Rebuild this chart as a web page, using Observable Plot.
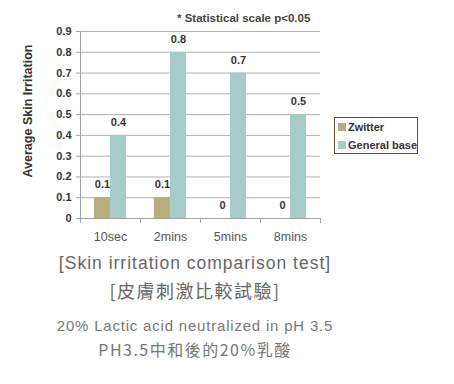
<!DOCTYPE html>
<html>
<head>
<meta charset="utf-8">
<script src="https://cdn.jsdelivr.net/npm/d3@7"></script>
<script src="https://cdn.jsdelivr.net/npm/@observablehq/plot@0.6"></script>
<style>
  html, body { margin: 0; padding: 0; background: #fff; }
  #wrap { position: relative; width: 454px; height: 384px; overflow: hidden; font-family: "Liberation Sans", Arial, sans-serif; }
  #chart { position: absolute; left: 0; top: 0; }
  .note { position: absolute; left: 177px; top: 12px; font-size: 11.5px; font-weight: bold; color: #444; white-space: nowrap; }
  .ytitle { position: absolute; left: 28px; top: 111px; transform: translate(-50%, -50%) rotate(-90deg); font-size: 12.5px; font-weight: bold; color: #333; white-space: nowrap; }
  .legend { position: absolute; left: 334px; top: 117px; width: 84px; height: 37px; border: 1.5px solid #5b4c3c; box-sizing: border-box; font-size: 11px; font-weight: bold; color: #333; }
  .legend .item { position: absolute; left: 3px; white-space: nowrap; line-height: 12px; }
  .legend .sw { display: inline-block; width: 8px; height: 8px; margin-right: 2px; }
  .cap { position: absolute; left: 0; width: 390px; text-align: center; white-space: nowrap; color: #666; }
</style>
</head>
<body>
<div id="wrap">
  <div id="chart"></div>
  <div class="note">* Statistical scale p&lt;0.05</div>
  <div class="ytitle">Average Skin Irritation</div>
  <div class="legend" id="legend"></div>
  <div class="cap" style="top:253px;font-size:17.5px;letter-spacing:1px;">[Skin irritation comparison test]</div>
  <div class="cap" style="top:279px;font-size:18px;letter-spacing:1.5px;font-family:'Noto Sans CJK TC',sans-serif;font-weight:400;line-height:22px;">[皮膚刺激比較試驗]</div>
  <div class="cap" style="top:317px;font-size:15px;letter-spacing:0.8px;color:#777;">20% Lactic acid neutralized in pH 3.5</div>
  <div class="cap" style="top:339px;font-size:16px;letter-spacing:1.5px;color:#777;font-family:'Noto Sans CJK TC',sans-serif;font-weight:400;line-height:20px;">PH3.5中和後的20%乳酸</div>
</div>
<script>
const categories = ["10sec", "2mins", "5mins", "8mins"];
const series = ["Zwitter", "General base"];
const zwitter = [0.1, 0.1, 0, 0];
const generalBase = [0.4, 0.8, 0.7, 0.5];
const colors = ["#b8ae7d", "#a7cbc9"];
const yTicks = [0, 0.1, 0.2, 0.3, 0.4, 0.5, 0.6, 0.7, 0.8, 0.9];

const data = [];
categories.forEach((c, i) => {
  data.push({cat: c, series: series[0], value: zwitter[i]});
  data.push({cat: c, series: series[1], value: generalBase[i]});
});

const plot = Plot.plot({
  width: 454,
  height: 248,
  marginLeft: 79,
  marginRight: 134,
  marginTop: 31,
  marginBottom: 30,
  style: {fontFamily: "Liberation Sans, Arial, sans-serif", background: "transparent"},
  fx: {domain: categories, padding: 0, label: null},
  x: {domain: series, paddingInner: 0, paddingOuter: 0.875, axis: null},
  y: {domain: [0, 0.9], ticks: yTicks, label: null},
  color: {domain: series, range: colors},
  marks: [
    Plot.gridY(yTicks, {stroke: "#b0b0b0", strokeOpacity: 1, strokeWidth: 1}),
    Plot.barY(data, {fx: "cat", x: "series", y: "value", fill: "series"}),
    Plot.text(data, {fx: "cat", x: "series", y: "value", text: d => String(d.value), dy: -13, fontWeight: "bold", fontSize: 11, fill: "#333"}),
    Plot.frame({anchor: "bottom", stroke: "#a0a0a0"}),
    Plot.frame({anchor: "left", facetAnchor: "left", stroke: "#a0a0a0", insetBottom: -4}),
    Plot.frame({anchor: "left", stroke: "#a0a0a0", insetTop: 187, insetBottom: -4}),
    Plot.frame({anchor: "right", facetAnchor: "right", stroke: "#a0a0a0", insetTop: 187, insetBottom: -4}),
    Plot.axisY(yTicks, {tickSize: 4, tickPadding: 5, stroke: "#a0a0a0", fill: "#333", fontWeight: "bold", fontSize: 11, tickFormat: d => String(d), label: null}),
    Plot.axisFx({anchor: "bottom", tickSize: 0, tickPadding: 14, fontSize: 12.5, fill: "#555", label: null})
  ]
});
document.getElementById("chart").appendChild(plot);

const legend = document.getElementById("legend");
series.forEach((s, i) => {
  const item = document.createElement("div");
  item.className = "item";
  item.style.top = (i === 0 ? 3 : 21) + "px";
  item.innerHTML = `<span class="sw" style="background:${colors[i]}"></span>${s}`;
  legend.appendChild(item);
});
</script>
</body>
</html>
